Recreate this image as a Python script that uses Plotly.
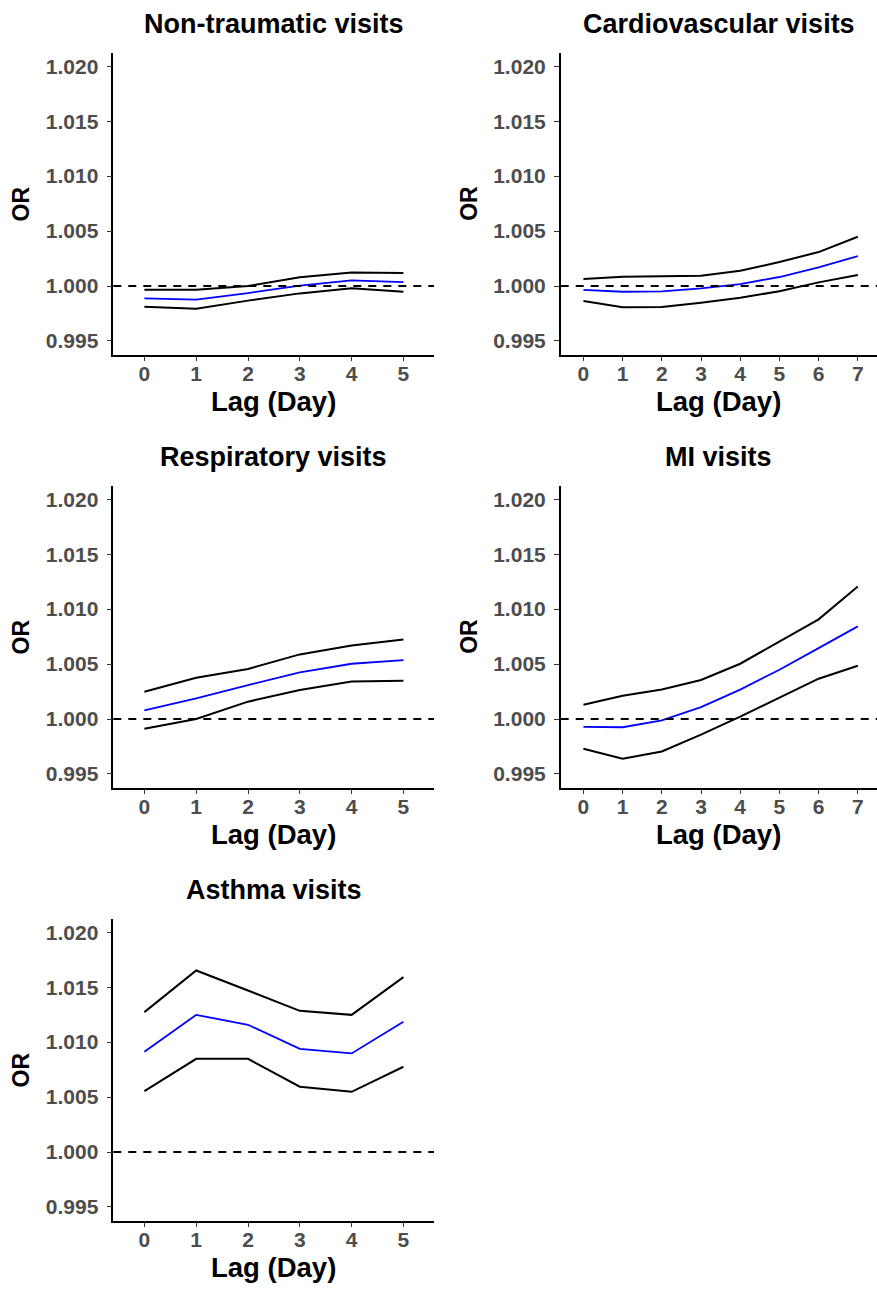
import plotly.graph_objects as go

# ---------------- data ----------------
lag5 = [0, 1, 2, 3, 4, 5]
lag7 = [0, 1, 2, 3, 4, 5, 6, 7]

nontraumatic_or = [0.99888, 0.99876, 0.99936, 1.00003, 1.00052, 1.00036]
nontraumatic_lo = [0.99812, 0.99794, 0.99867, 0.99933, 0.99979, 0.99948]
nontraumatic_hi = [0.99967, 0.99967, 1.00000, 1.00079, 1.00124, 1.00118]

cardio_or = [0.99964, 0.99948, 0.99952, 0.99979, 1.00018, 1.00082, 1.00170, 1.00273]
cardio_lo = [0.99864, 0.99806, 0.99809, 0.99848, 0.99894, 0.99952, 1.00033, 1.00100]
cardio_hi = [1.00064, 1.00085, 1.00088, 1.00094, 1.00139, 1.00218, 1.00309, 1.00448]

resp_or = [1.00079, 1.00188, 1.00309, 1.00424, 1.00503, 1.00536]
resp_lo = [0.99912, 1.00000, 1.00158, 1.00264, 1.00342, 1.00348]
resp_hi = [1.00248, 1.00376, 1.00455, 1.00588, 1.00670, 1.00724]

mi_or = [0.99928, 0.99925, 0.99988, 1.00108, 1.00268, 1.00449, 1.00645, 1.00843]
mi_lo = [0.99729, 0.99639, 0.99705, 0.99858, 1.00021, 1.00193, 1.00367, 1.00485]
mi_hi = [1.00130, 1.00211, 1.00268, 1.00355, 1.00503, 1.00702, 1.00907, 1.01205]

asthma_or = [1.00912, 1.01248, 1.01158, 1.00939, 1.00897, 1.01185]
asthma_lo = [1.00555, 1.00848, 1.00848, 1.00594, 1.00548, 1.00776]
asthma_hi = [1.01273, 1.01652, 1.01470, 1.01285, 1.01248, 1.01591]

titles = ["Non-traumatic visits", "Cardiovascular visits", "Respiratory visits",
          "MI visits", "Asthma visits"]
y_ticks = [0.995, 1.000, 1.005, 1.010, 1.015, 1.020]
y_ticktext = ["0.995", "1.000", "1.005", "1.010", "1.015", "1.020"]
reference_or = 1.0
x_title = "Lag (Day)"
y_title = "OR"

panels = [
    (lag5, nontraumatic_or, nontraumatic_lo, nontraumatic_hi),
    (lag7, cardio_or, cardio_lo, cardio_hi),
    (lag5, resp_or, resp_lo, resp_hi),
    (lag7, mi_or, mi_lo, mi_hi),
    (lag5, asthma_or, asthma_lo, asthma_hi),
]

# ---------------- layout geometry (pixels) ----------------
W, H = 877, 1289
col_x = [(113.3, 434.0), (560.7, 877.0)]
row_y = [(52.5, 354.7), (485.5, 787.7), (918.5, 1220.7)]
x_ranges = {5: [-0.6, 5.59], 7: [-0.58, 7.49]}
y_range = [0.99375, 1.02125]

FONT = "Liberation Sans, Arial, sans-serif"

fig = go.Figure()
layout = dict(
    width=W, height=H,
    margin=dict(l=0, r=0, t=0, b=0),
    paper_bgcolor="white", plot_bgcolor="white",
    showlegend=False,
    font=dict(family=FONT),
)
annotations = []
shapes = []

for i, (lags, orv, lo, hi) in enumerate(panels):
    r, c = divmod(i, 2)
    n = i + 1
    xa = "x" if n == 1 else f"x{n}"
    ya = "y" if n == 1 else f"y{n}"
    x0, x1 = col_x[c]
    yt, yb = row_y[r]

    for vals, color, w in [(hi, "black", 2.0), (lo, "black", 2.0), (orv, "#0000FF", 1.8)]:
        fig.add_trace(go.Scatter(x=lags, y=vals, mode="lines",
                                 line=dict(color=color, width=w),
                                 xaxis=xa, yaxis=ya, hoverinfo="skip"))

    axis_common = dict(
        showgrid=False, zeroline=False, showline=True, linecolor="black", linewidth=1.5,
        ticks="outside", ticklen=5, tickwidth=1.2, tickcolor="#333333",
        tickfont=dict(family=FONT, size=21, color="#4D4D4D", weight="bold"),
    )
    layout["xaxis" if n == 1 else f"xaxis{n}"] = dict(
        axis_common,
        domain=[x0 / W, x1 / W],
        anchor=ya,
        range=x_ranges[max(lags)],
        tickvals=lags, ticktext=[str(v) for v in lags],
        ticklabelstandoff=-6,
    )
    layout["yaxis" if n == 1 else f"yaxis{n}"] = dict(
        axis_common,
        domain=[1 - yb / H, 1 - yt / H],
        anchor=xa,
        range=y_range,
        tickvals=y_ticks, ticktext=y_ticktext,
        ticklabelstandoff=4,
    )

    shapes.append(dict(type="line", xref=f"{xa} domain", yref=ya,
                       x0=0, x1=1, y0=reference_or, y1=reference_or,
                       line=dict(color="black", width=1.8, dash="8px,7px")))

    cx = (x0 + x1) / 2
    cy = (yt + yb) / 2
    annotations.append(dict(text=titles[i], xref="paper", yref="paper",
                            x=cx / W, y=1 - (yt - 28.5) / H,
                            xanchor="center", yanchor="middle", showarrow=False,
                            font=dict(family=FONT, size=27, color="black", weight="bold")))
    annotations.append(dict(text=x_title, xref="paper", yref="paper",
                            x=cx / W, y=1 - (yb + 47) / H,
                            xanchor="center", yanchor="middle", showarrow=False,
                            font=dict(family=FONT, size=27.5, color="black", weight="bold")))
    annotations.append(dict(text=y_title, xref="paper", yref="paper",
                            x=(x0 - 92.5) / W, y=1 - cy / H,
                            xanchor="center", yanchor="middle", showarrow=False,
                            textangle=-90,
                            font=dict(family=FONT, size=23, color="black", weight="bold")))

layout["annotations"] = annotations
layout["shapes"] = shapes
fig.update_layout(**layout)
fig.write_html("out.html")
